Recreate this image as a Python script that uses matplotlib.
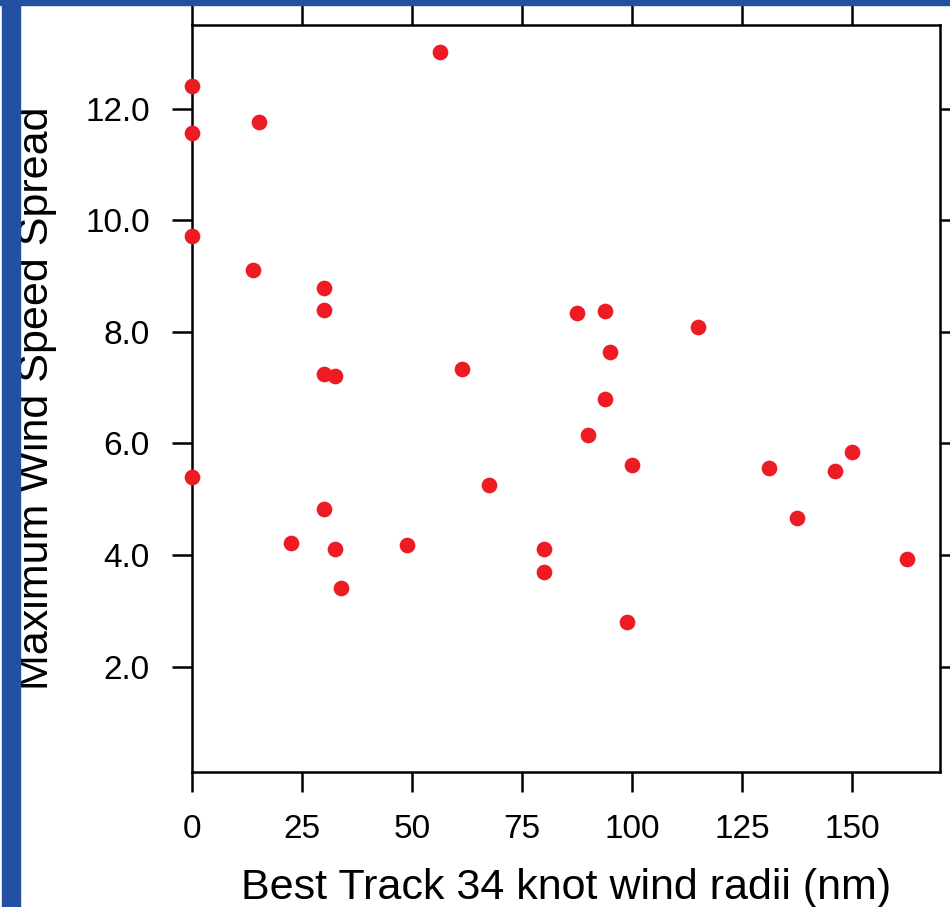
import matplotlib.pyplot as plt
from matplotlib.patches import Rectangle

plt.rcParams['font.family'] = ['Liberation Sans', 'DejaVu Sans']

# best track 34 knot wind radii (nm) vs. maximum wind speed spread
radii = [0, 0, 15.2, 56.4, 0, 13.8, 30, 30, 30, 32.6, 61.3, 0, 30, 22.6, 32.6,
         48.8, 33.9, 87.6, 93.8, 115, 95, 93.8, 90.1, 100.1, 67.6, 80.1, 80.1,
         98.8, 150, 131.2, 146.2, 137.4, 162.5]
spread = [12.4, 11.57, 11.76, 13.02, 9.71, 9.11, 8.79, 8.39, 7.25, 7.20, 7.34,
          5.39, 4.83, 4.22, 4.10, 4.18, 3.40, 8.34, 8.38, 8.08, 7.64, 6.80,
          6.15, 5.61, 5.25, 4.11, 3.70, 2.80, 5.85, 5.56, 5.50, 4.66, 3.92]

x_ticks = [0, 25, 50, 75, 100, 125, 150]
y_ticks = [2, 4, 6, 8, 10, 12]

fig = plt.figure(figsize=(9.5, 9.07), dpi=100)
ax = fig.add_axes([192 / 950, 1 - 772 / 907, (940 - 192) / 950, (772 - 25) / 907])

ax.plot(radii, spread, 'o', color='#ed1c24', markersize=11.3, markeredgewidth=0,
        clip_on=False, zorder=3)

ax.set_xlim(0, 170)
ax.set_ylim(0.11, 13.5)
ax.set_xticks(x_ticks)
ax.set_yticks(y_ticks)
ax.set_yticklabels([f"{v:.1f}" for v in y_ticks])

for s in ax.spines.values():
    s.set_linewidth(1.8)
ax.tick_params(direction='out', length=14.5, width=1.8, labelsize=24, pad=16,
               top=True, right=True)

ax.set_xlabel("Best Track 34 knot wind radii (nm)", fontsize=31, labelpad=16)
ax.set_ylabel("Maximum Wind Speed Spread", fontsize=31, labelpad=20)

# blue frame of the slide
fig.add_artist(Rectangle((0, 1 - 5 / 907), 1, 5 / 907, transform=fig.transFigure,
                         color='#2450a4', zorder=10))
fig.add_artist(Rectangle((2 / 950, 0), 18 / 950, 1, transform=fig.transFigure,
                         color='#2450a4', zorder=10))

fig.savefig("out.png", dpi=100)
